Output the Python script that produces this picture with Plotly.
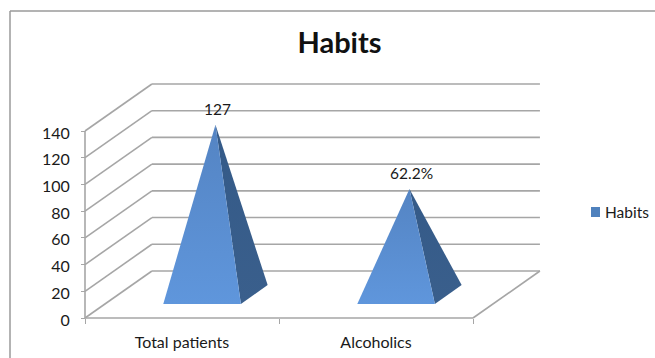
import plotly.graph_objects as go

# Chart data
categories = ["Total patients", "Alcoholics"]
total_patients = 127
alcoholic_share = 62.2
values = [total_patients, total_patients * alcoholic_share / 100]
value_labels = ["127", "62.2%"]
y_ticks = [0, 20, 40, 60, 80, 100, 120, 140]
series_name = "Habits"

# Oblique projection of the floor depth, in axis units per unit of depth
DEPTH_X = 0.345
DEPTH_Y = 35.2
BASE_HALF_WIDTH = 0.2
BASE_NEAR, BASE_FAR = 0.3, 0.7

W, H = 655, 358
FONT = "Lato, 'Open Sans', sans-serif"
TEXT = "#1a1a1a"
GRID = "#a6a6a6"

# Pixel placement of the front plane of the plot
LEFT_PX, RIGHT_PX = 85, 473
FLOOR_PX, TOP_PX = 318, 131
PX_PER_CATEGORY = (RIGHT_PX - LEFT_PX) / len(categories)
PX_PER_VALUE = (FLOOR_PX - TOP_PX) / y_ticks[-1]


def project(x, depth, height):
    return x + DEPTH_X * depth, height + DEPTH_Y * depth


def segment(a, b):
    xa, ya = project(*a)
    xb, yb = project(*b)
    return [xa, xb, None], [ya, yb, None]


fig = go.Figure()

# Back wall gridlines, side wall diagonals and the floor outline
gx, gy = [], []
x_end = len(categories)
for tick in y_ticks:
    for a, b in [((0, 1, tick), (x_end, 1, tick)), ((0, 0, tick), (0, 1, tick))]:
        sx, sy = segment(a, b)
        gx += sx
        gy += sy
for a, b in [((x_end, 0, 0), (x_end, 1, 0)), ((0, 0, 0), (x_end, 0, 0)), ((0, 0, 0), (0, 0, y_ticks[-1]))]:
    sx, sy = segment(a, b)
    gx += sx
    gy += sy
fig.add_trace(go.Scatter(x=gx, y=gy, mode="lines", cliponaxis=False, showlegend=False,
                         hoverinfo="skip", line=dict(color=GRID, width=1.6)))

# One pyramid per category: dark side face, then light front face, then its value label
annotations = []
for i, (value, label) in enumerate(zip(values, value_labels)):
    center = i + 0.5
    near_left = project(center - BASE_HALF_WIDTH, BASE_NEAR, 0)
    near_right = project(center + BASE_HALF_WIDTH, BASE_NEAR, 0)
    far_right = project(center + BASE_HALF_WIDTH, BASE_FAR, 0)
    apex = project(center, (BASE_NEAR + BASE_FAR) / 2, value)

    fig.add_trace(go.Scatter(
        x=[near_right[0], far_right[0], apex[0], near_right[0]],
        y=[near_right[1], far_right[1], apex[1], near_right[1]],
        mode="lines", fill="toself", cliponaxis=False, showlegend=False, hoverinfo="skip",
        line=dict(width=0),
        fillgradient=dict(type="vertical", colorscale=[[0, "#3a5f8c"], [1, "#345a88"]]),
    ))
    fig.add_trace(go.Scatter(
        x=[near_left[0], near_right[0], apex[0], near_left[0]],
        y=[near_left[1], near_right[1], apex[1], near_left[1]],
        mode="lines", fill="toself", cliponaxis=False, showlegend=False, hoverinfo="skip",
        line=dict(width=0),
        fillgradient=dict(type="vertical", colorscale=[[0, "#5f96dc"], [1, "#5484c3"]]),
    ))
    annotations.append(dict(
        x=apex[0], y=apex[1], xref="x", yref="y", text=label, showarrow=False,
        xanchor="center", yanchor="middle", xshift=2, yshift=16,
        font=dict(family=FONT, size=15.5, color=TEXT),
    ))

# Legend key and its label, placed to the right of the plot
annotations.append(dict(
    x=605 / W, y=1 - 212 / H, xref="paper", yref="paper", text=series_name, showarrow=False,
    xanchor="left", yanchor="middle", xshift=-2,
    font=dict(family=FONT, size=15.5, color=TEXT),
))
legend_key = dict(type="rect", xref="paper", yref="paper", x0=591 / W, x1=600 / W,
                  y0=1 - 217 / H, y1=1 - 207 / H, fillcolor="#4f81bd", line=dict(width=0))

fig.update_layout(
    width=W, height=H,
    autosize=False,
    showlegend=False,
    margin=dict(l=0, r=0, t=0, b=0, autoexpand=False),
    paper_bgcolor="white",
    plot_bgcolor="white",
    font=dict(family=FONT, size=16, color=TEXT),
    title=dict(text=f"<b>{series_name}</b>", x=339.5 / W, xanchor="center", y=1 - 43 / H,
               yanchor="middle", font=dict(family=FONT, size=29, color="#111111")),
    xaxis=dict(
        domain=[0, 1], fixedrange=True,
        range=[-LEFT_PX / PX_PER_CATEGORY, (W - LEFT_PX) / PX_PER_CATEGORY],
        anchor="free", position=(H - FLOOR_PX) / H,
        showgrid=False, zeroline=False, showline=False,
        tickvals=[i + 0.5 for i in range(len(categories))], ticktext=categories,
        ticks="", ticklabelstandoff=13,
        minor=dict(tickvals=list(range(x_end + 1)), ticks="outside", ticklen=5,
                   tickcolor=GRID, tickwidth=1.2),
    ),
    yaxis=dict(
        domain=[0, 1], fixedrange=True,
        range=[(FLOOR_PX - H) / PX_PER_VALUE, FLOOR_PX / PX_PER_VALUE],
        anchor="free", position=LEFT_PX / W,
        showgrid=False, zeroline=False, showline=False,
        tickvals=y_ticks, ticks="outside", ticklen=4, tickcolor=GRID, tickwidth=1.2,
        ticklabelstandoff=8, ticklabelshift=2,
    ),
    annotations=annotations,
    shapes=[
        # Chart frame along the top and left edges
        dict(type="line", xref="paper", yref="paper", x0=10 / W, x1=1, y0=1 - 11 / H, y1=1 - 11 / H,
             line=dict(color="#9a9a9a", width=1.5)),
        dict(type="line", xref="paper", yref="paper", x0=10 / W, x1=10 / W, y0=0, y1=1 - 11 / H,
             line=dict(color="#9a9a9a", width=1.5)),
        legend_key,
    ],
)

fig.write_html("out.html", config=dict(displayModeBar=False))
